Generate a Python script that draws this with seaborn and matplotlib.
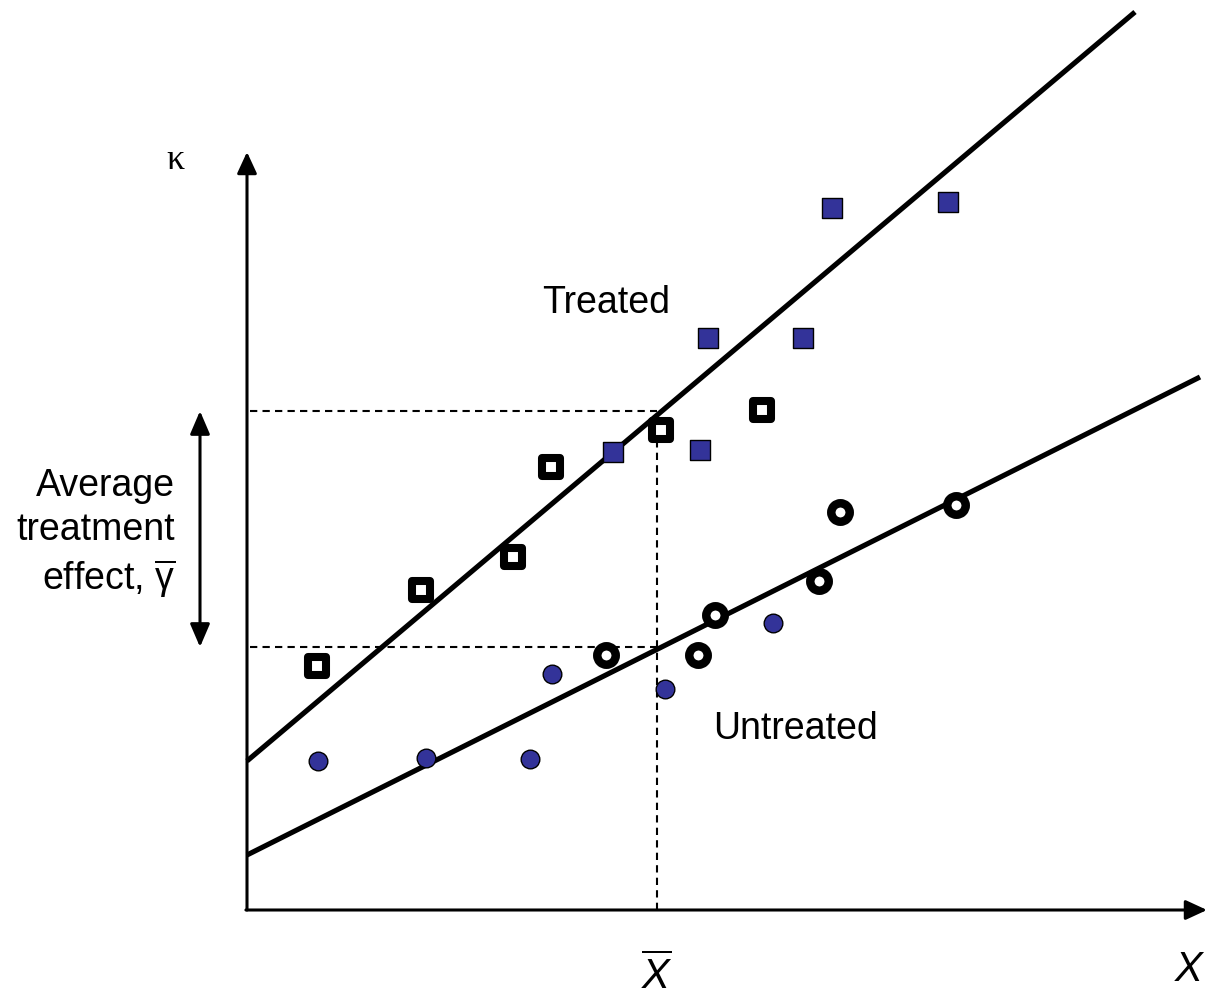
import matplotlib
matplotlib.use("Agg")
import matplotlib.pyplot as plt
import seaborn as sns
import pandas as pd

sns.set_theme(style="white")
plt.rcParams["font.family"] = ["Liberation Sans", "DejaVu Sans"]
plt.rcParams["mathtext.fontset"] = "custom"
plt.rcParams["mathtext.rm"] = "Liberation Sans"
plt.rcParams["mathtext.it"] = "Liberation Sans:italic"
plt.rcParams["text.color"] = "black"

# ---- data (arbitrary units, origin at axis corner) ----
treated_obs_x = [3.66, 4.53, 4.61, 5.56, 5.85, 7.01]
treated_obs_y = [4.58, 4.60, 5.72, 5.72, 7.02, 7.08]
untreated_obs_x = [0.71, 1.79, 2.83, 3.05, 4.18, 5.26]
untreated_obs_y = [1.49, 1.52, 1.51, 2.36, 2.21, 2.87]
treated_cf_x = [0.70, 1.74, 2.66, 3.04, 4.14, 5.15]
treated_cf_y = [2.44, 3.20, 3.53, 4.43, 4.80, 5.00]
untreated_cf_x = [3.59, 4.51, 4.68, 5.72, 5.93, 7.09]
untreated_cf_y = [2.55, 2.55, 2.95, 3.29, 3.98, 4.05]

treated_line_x = [0.0, 8.88]
treated_line_y = [1.49, 8.98]
untreated_line_x = [0.0, 9.53]
untreated_line_y = [0.55, 5.33]

x_bar = 4.10
y_treated_bar = 4.99
y_untreated_bar = 2.63

x_axis_end = 9.60
y_axis_end = 7.58

fig = plt.figure(figsize=(12.07, 9.98), dpi=100)
ax = fig.add_axes([0, 0, 1, 1])
ax.set_xlim(-2.47, 9.60)
ax.set_ylim(-0.88, 9.10)
ax.axis("off")

blue = "#333399"

# regression lines
lines = pd.DataFrame({
    "x": treated_line_x + untreated_line_x,
    "y": treated_line_y + untreated_line_y,
    "g": ["Treated"] * 2 + ["Untreated"] * 2,
})
sns.lineplot(data=lines, x="x", y="y", units="g", estimator=None,
             color="black", linewidth=3.7, ax=ax, legend=False,
             solid_capstyle="butt", zorder=3)

# dashed guides
dash = dict(ls=(0, (3.5, 2.5)), color="black", lw=1.5, zorder=2)
ax.plot([0.03, x_bar], [y_treated_bar, y_treated_bar], **dash)
ax.plot([0.03, x_bar], [y_untreated_bar, y_untreated_bar], **dash)
ax.plot([x_bar, x_bar], [0, y_treated_bar], **dash)

# points
sns.scatterplot(x=treated_obs_x, y=treated_obs_y, marker="s", s=200,
                color=blue, edgecolor="black", linewidth=1.0, ax=ax, zorder=4)
sns.scatterplot(x=untreated_obs_x, y=untreated_obs_y, marker="o", s=180,
                color=blue, edgecolor="black", linewidth=1.0, ax=ax, zorder=4)
sns.scatterplot(x=treated_cf_x, y=treated_cf_y, marker="s", s=150,
                color="white", edgecolor="black", linewidth=5.8, ax=ax, zorder=5)
sns.scatterplot(x=untreated_cf_x, y=untreated_cf_y, marker="o", s=177,
                color="white", edgecolor="black", linewidth=6.1, ax=ax, zorder=5)
for c in ax.collections:
    c.set_joinstyle("round")

# axes with arrows
arrow_kw = dict(arrowstyle="-|>,head_length=0.65,head_width=0.3", color="black",
                lw=2.2, shrinkA=0, shrinkB=0, mutation_scale=20)
ax.annotate("", xy=(0, y_axis_end), xytext=(0, 0), arrowprops=arrow_kw, zorder=1)
ax.annotate("", xy=(x_axis_end, 0), xytext=(-0.011, 0), arrowprops=arrow_kw, zorder=1)

# double-headed arrow for treatment effect
ax.annotate("", xy=(-0.47, y_treated_bar), xytext=(-0.47, y_untreated_bar),
            arrowprops=dict(arrowstyle="<|-|>,head_length=0.7,head_width=0.3",
                            color="black", lw=2.2, shrinkA=0, shrinkB=0,
                            mutation_scale=20))

fs = 27
ax.text(-0.72, 7.50, "κ", fontsize=26, ha="center", va="center",
        family=["Liberation Serif", "DejaVu Serif"])
ax.text(3.59, 6.07, "Treated", fontsize=fs, ha="center", va="center")
ax.text(5.49, 1.81, "Untreated", fontsize=fs, ha="center", va="center")
ax.text(-0.72, 3.76, "Average\ntreatment\neffect, $\\overline{\\mathrm{\\gamma}}$", fontsize=fs,
        ha="right", va="center", multialignment="right", linespacing=1.3)
ax.text(x_bar, -0.66, "$\\overline{X}$", fontsize=30, ha="center", va="center")
ax.text(9.43, -0.60, "$X$", fontsize=30, ha="center", va="center")

fig.savefig("out.png", dpi=100)
